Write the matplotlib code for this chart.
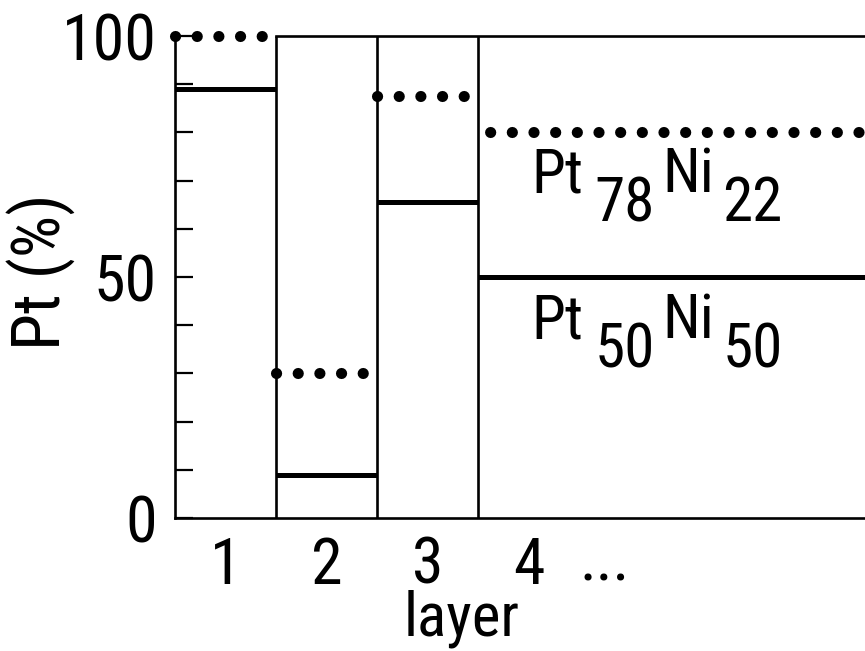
import matplotlib
matplotlib.use('Agg')
import matplotlib.pyplot as plt
import numpy as np

plt.rcParams['font.family'] = ['Roboto Condensed', 'Roboto', 'DejaVu Sans']

# Pt content per layer for the two alloys; layer 4 stands for the bulk
layers = [1, 2, 3, 4]
pt50ni50 = [89, 9, 65.5, 50]
pt78ni22 = [100, 30, 87.5, 80]
layer_labels = ['1', '2', '3', '4']

XMAX = 6.83

fig = plt.figure(figsize=(8.65, 6.51), dpi=100)
ax = fig.add_axes([0.2023, 0.2043, 0.7977, 0.7404])
ax.set_xlim(0, XMAX)
ax.set_ylim(0, 100)

# layer boxes
for i in range(1, len(layers)):
	ax.plot([i, i], [0, 100], color='black', lw=1.9, solid_capstyle='butt', clip_on=False)
ax.plot([1, XMAX], [100, 100], color='black', lw=1.9, clip_on=False)

for i, (a, b) in enumerate(zip(pt50ni50, pt78ni22)):
	x0 = layers[i] - 1
	x1 = layers[i] if i < len(layers) - 1 else XMAX
	ax.plot([x0, x1], [a, a], color='black', lw=3.6, solid_capstyle='butt', clip_on=False)
	# bulk row of dots starts a little away from the last box
	off = 0.86 if i == len(layers) - 1 else 0
	ax.plot([x0, x1], [b, b], color='black', lw=8, linestyle=(off, (0.01, 1.94)),
		dash_capstyle='round', clip_on=False)

for s in ['top', 'right']:
	ax.spines[s].set_visible(False)
for s in ['left', 'bottom']:
	ax.spines[s].set_linewidth(1.9)

ax.set_yticks(np.arange(0, 101, 10))
ax.set_yticklabels(['0' if v == 0 else '50' if v == 50 else '100' if v == 100 else '' for v in range(0, 101, 10)])
ax.tick_params(axis='y', direction='in', length=13, width=1.6, pad=13, labelsize=46)

ax.set_xticks([l - 0.5 for l in layers])
ax.set_xticklabels(layer_labels)
ax.tick_params(axis='x', length=0, pad=12, labelsize=46)
ax.text(4.25, -12.9, '...', ha='center', va='baseline', fontsize=46)

ax.set_xlabel('layer', fontsize=44, va='baseline')
ax.xaxis.set_label_coords(0.416, -0.243)
ax.set_ylabel('Pt (%)', fontsize=48, va='center')
ax.yaxis.set_label_coords(-0.193, 0.51)

# alloy labels with full-size subscripts
def alloy(x, y, pt, ni):
	ax.text(x, y, 'Pt', fontsize=44, va='baseline')
	ax.text(x + 0.62, y - 6, pt, fontsize=44, va='baseline')
	ax.text(x + 1.29, y, 'Ni', fontsize=44, va='baseline')
	ax.text(x + 1.89, y - 6, ni, fontsize=44, va='baseline')

alloy(3.53, 67.6, '78', '22')
alloy(3.53, 37.3, '50', '50')

fig.savefig('out.png', dpi=100)
